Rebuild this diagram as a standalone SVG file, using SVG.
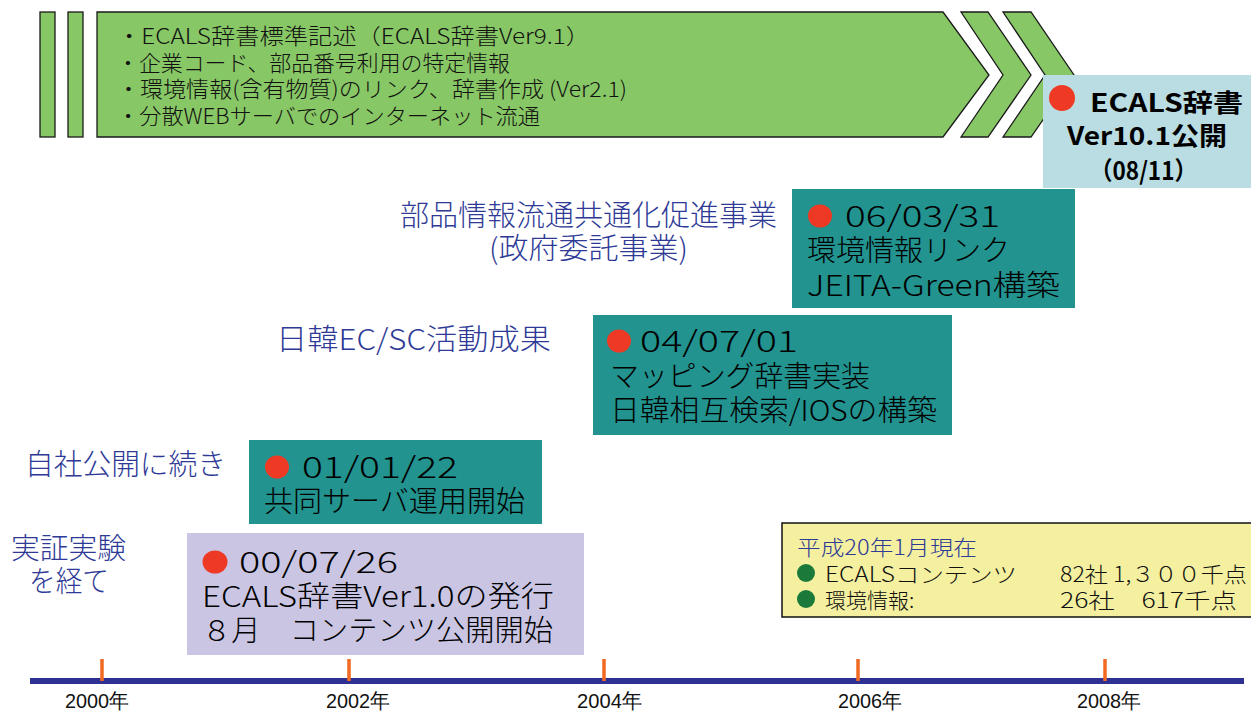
<svg xmlns="http://www.w3.org/2000/svg" width="1251" height="711" viewBox="0 0 1251 711">
<defs>
<style>
.jp{font-family:"Noto Sans CJK JP","Noto Sans",sans-serif;font-weight:300;}
.box{font-family:"Noto Sans CJK JP","Noto Sans",sans-serif;font-weight:300;font-size:29px;fill:#000;}
.lbl{font-family:"Noto Sans CJK JP","Noto Sans",sans-serif;font-weight:300;font-size:29px;fill:#2e3a96;}
.grn{fill:#88c765;stroke:#1a1a1a;stroke-width:1.3;}
.teal{fill:#22938f;}
.dot{fill:#ee3a24;}
.gdot{fill:#1b7a3a;}
.yr{font-family:"Liberation Sans Narrow","Liberation Sans",sans-serif;font-size:21px;fill:#111;}
.tick{stroke:#f26a22;stroke-width:3.5;}
</style>
</defs>
<rect width="1251" height="711" fill="#fff"/>

<g id="banner">
<rect class="grn" x="40" y="12" width="15" height="125"/>
<rect class="grn" x="68" y="12" width="15" height="125"/>
<polygon class="grn" points="97,12 943,12 989,75 943,137 97,137"/>
<polygon class="grn" points="961,12 988,12 1031,75 988,137 961,137 1003,75"/>
<polygon class="grn" points="1003,12 1031,12 1074,75 1031,137 1003,137 1045,75"/>
<g class="jp" font-size="21.5" fill="#111">
<text x="117" y="44" textLength="473" lengthAdjust="spacingAndGlyphs">・ECALS辞書標準記述（ECALS辞書Ver9.1）</text>
<text x="117" y="71" textLength="393" lengthAdjust="spacingAndGlyphs">・企業コード、部品番号利用の特定情報</text>
<text x="117" y="97" textLength="510" lengthAdjust="spacingAndGlyphs">・環境情報(含有物質)のリンク、辞書作成 (Ver2.1)</text>
<text x="117" y="124" textLength="423" lengthAdjust="spacingAndGlyphs">・分散WEBサーバでのインターネット流通</text>
</g>
</g>

<g id="ver10">
<rect x="1043" y="75" width="208" height="113" fill="#b9dde2"/>
<ellipse class="dot" cx="1062" cy="98" rx="13" ry="13"/>
<g font-family="'Noto Sans CJK JP','Noto Sans',sans-serif" font-size="25" font-weight="bold" fill="#000">
<text x="1090" y="112" textLength="153" lengthAdjust="spacingAndGlyphs">ECALS辞書</text>
<text x="1067" y="145" textLength="160" lengthAdjust="spacingAndGlyphs">Ver10.1公開</text>
<text x="1090" y="180" textLength="107" lengthAdjust="spacingAndGlyphs">（08/11）</text>
</g>
</g>

<g id="node2006">
<text class="lbl" x="400" y="226" textLength="377" lengthAdjust="spacingAndGlyphs">部品情報流通共通化促進事業</text>
<text class="lbl" x="489" y="259" textLength="199" lengthAdjust="spacingAndGlyphs">(政府委託事業)</text>
<rect class="teal" x="792" y="189" width="283" height="119"/>
<ellipse class="dot" cx="820" cy="216" rx="12" ry="11.5"/>
<text class="box" x="845" y="227" textLength="155" lengthAdjust="spacingAndGlyphs">06/03/31</text>
<text class="box" x="807" y="261">環境情報リンク</text>
<text class="box" x="807" y="296" textLength="253" lengthAdjust="spacingAndGlyphs">JEITA-Green構築</text>
</g>

<g id="node2004">
<text class="lbl" x="276" y="350" textLength="275" lengthAdjust="spacingAndGlyphs">日韓EC/SC活動成果</text>
<rect class="teal" x="593" y="315" width="359" height="120"/>
<ellipse class="dot" cx="619" cy="341" rx="12" ry="11.5"/>
<text class="box" x="640" y="352" textLength="158" lengthAdjust="spacingAndGlyphs">04/07/01</text>
<text class="box" x="610" y="387" textLength="260" lengthAdjust="spacingAndGlyphs">マッピング辞書実装</text>
<text class="box" x="610" y="421" textLength="327" lengthAdjust="spacingAndGlyphs">日韓相互検索/IOSの構築</text>
</g>

<g id="node2001">
<text class="lbl" x="25" y="475" textLength="201" lengthAdjust="spacingAndGlyphs">自社公開に続き</text>
<rect class="teal" x="249" y="440" width="293" height="84"/>
<ellipse class="dot" cx="277" cy="467" rx="12" ry="11.5"/>
<text class="box" x="302" y="478" textLength="156" lengthAdjust="spacingAndGlyphs">01/01/22</text>
<text class="box" x="264" y="512" textLength="261" lengthAdjust="spacingAndGlyphs">共同サーバ運用開始</text>
</g>

<g id="node2000">
<text class="lbl" x="11" y="559" textLength="115" lengthAdjust="spacingAndGlyphs">実証実験</text>
<text class="lbl" x="29" y="592" textLength="80" lengthAdjust="spacingAndGlyphs">を経て</text>
<rect x="187" y="533" width="397" height="122" fill="#c9c5e3"/>
<ellipse class="dot" cx="215" cy="562" rx="12.5" ry="11.5"/>
<text class="box" x="239" y="573" textLength="159" lengthAdjust="spacingAndGlyphs">00/07/26</text>
<text class="box" x="202" y="607" textLength="352" lengthAdjust="spacingAndGlyphs">ECALS辞書Ver1.0の発行</text>
<text class="box" x="202" y="641" textLength="351" lengthAdjust="spacingAndGlyphs">８月　コンテンツ公開開始</text>
</g>

<g id="status">
<rect x="782" y="523" width="475" height="94" fill="#f4f0a0" stroke="#111" stroke-width="1.5"/>
<text class="jp" x="797" y="555" font-size="21" fill="#2e3a96" textLength="180" lengthAdjust="spacingAndGlyphs">平成20年1月現在</text>
<circle class="gdot" cx="806" cy="573" r="9"/>
<circle class="gdot" cx="806" cy="599" r="9"/>
<g class="jp" font-size="21" fill="#111">
<text x="825" y="582" textLength="192" lengthAdjust="spacingAndGlyphs">ECALSコンテンツ</text>
<text x="1060" y="582" textLength="187" lengthAdjust="spacingAndGlyphs">82社 1,３００千点</text>
<text x="825" y="608">環境情報:</text>
<text x="1060" y="608" textLength="177" lengthAdjust="spacingAndGlyphs">26社　617千点</text>
</g>
</g>

<g id="timeline">
<rect x="30" y="678" width="1214" height="6" fill="#2e3192"/>
<line class="tick" x1="102" y1="659" x2="102" y2="681"/>
<line class="tick" x1="349" y1="659" x2="349" y2="681"/>
<line class="tick" x1="604" y1="659" x2="604" y2="681"/>
<line class="tick" x1="858" y1="659" x2="858" y2="681"/>
<line class="tick" x1="1105" y1="659" x2="1105" y2="681"/>
<text class="yr" x="65" y="708" textLength="64" lengthAdjust="spacingAndGlyphs">2000年</text>
<text class="yr" x="326" y="708" textLength="64" lengthAdjust="spacingAndGlyphs">2002年</text>
<text class="yr" x="577" y="708" textLength="65" lengthAdjust="spacingAndGlyphs">2004年</text>
<text class="yr" x="838" y="708" textLength="64" lengthAdjust="spacingAndGlyphs">2006年</text>
<text class="yr" x="1077" y="708" textLength="64" lengthAdjust="spacingAndGlyphs">2008年</text>
</g>
<g id="connectors"/>
</svg>
